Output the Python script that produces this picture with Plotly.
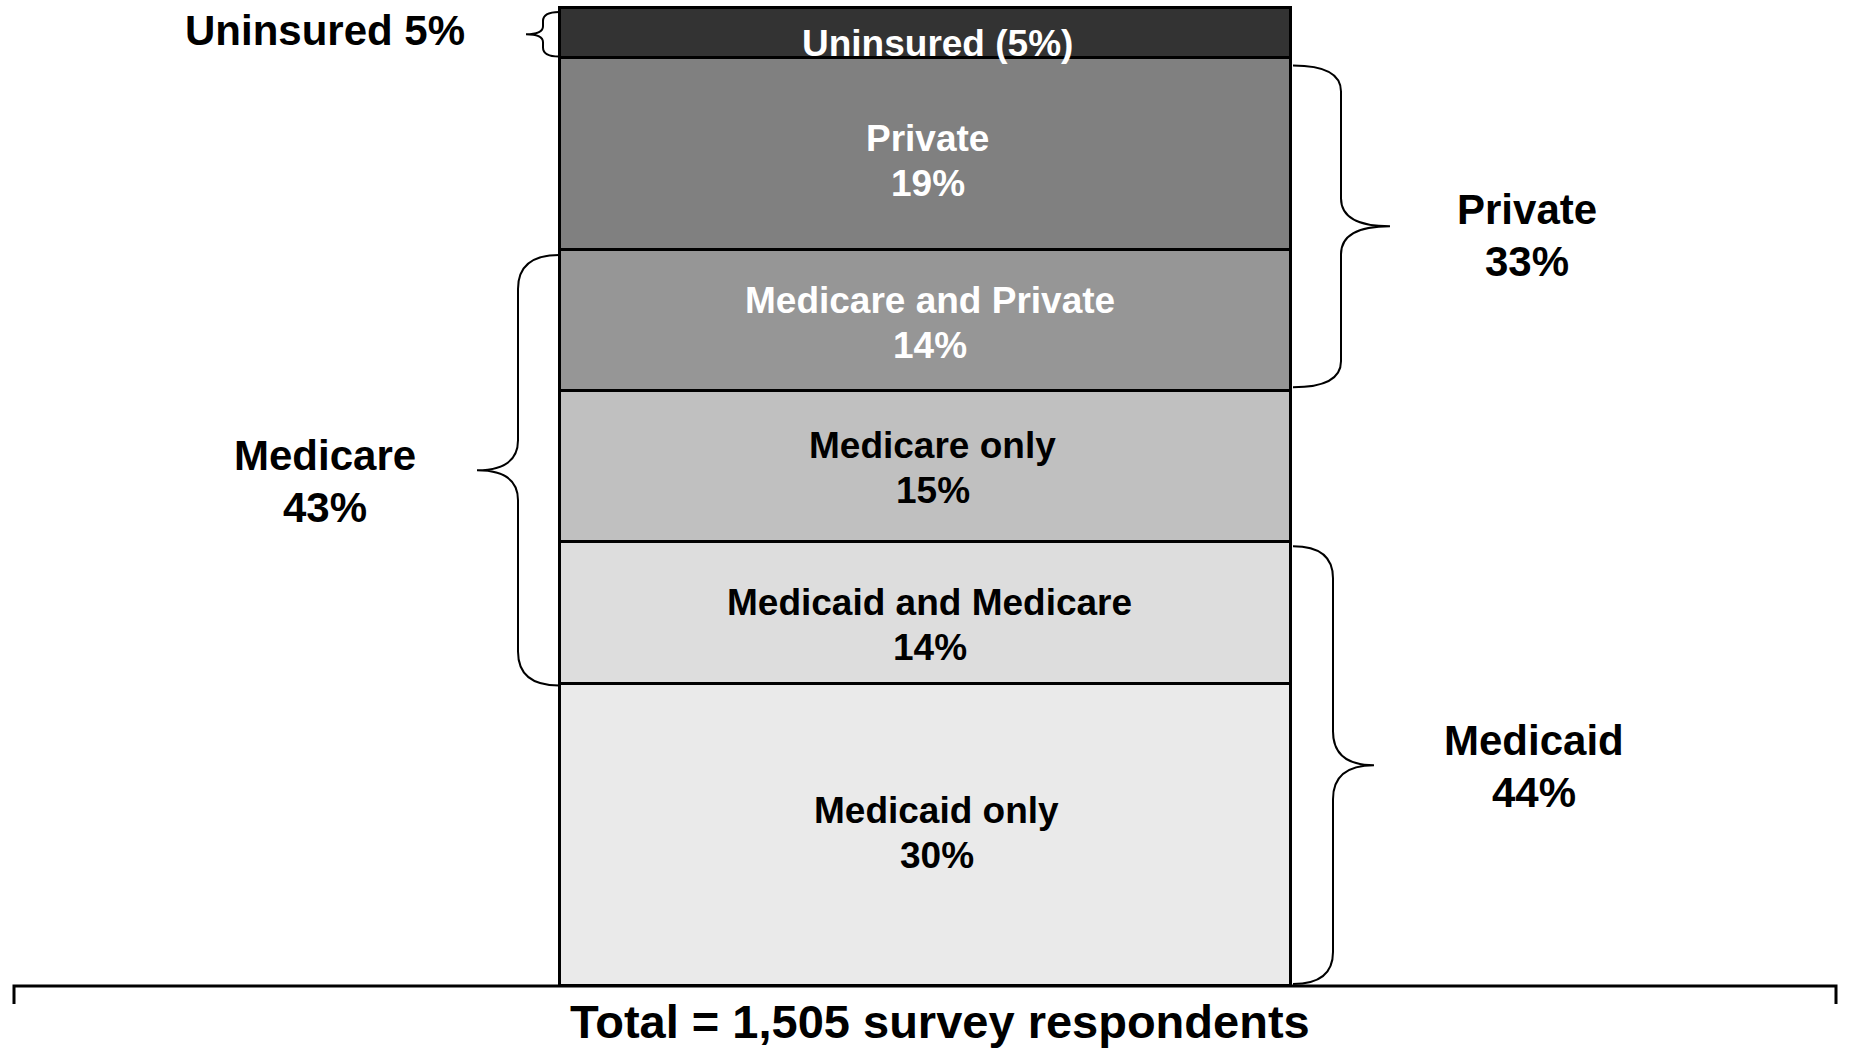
import plotly.graph_objects as go

# ---------------- data ----------------
segments = ["Medicaid only", "Medicaid and Medicare", "Medicare only",
            "Medicare and Private", "Private", "Uninsured"]
segment_pct = [30, 14, 15, 14, 19, 5]
segment_lines = [["Medicaid only", "30%"], ["Medicaid and Medicare", "14%"],
                 ["Medicare only", "15%"], ["Medicare and Private", "14%"],
                 ["Private", "19%"], ["Uninsured (5%)"]]
groups = ["Uninsured", "Private", "Medicare", "Medicaid"]
group_pct = [5, 33, 43, 44]
group_members = [[5], [3, 4], [1, 2, 3], [0, 1]]
total_label = "Total = 1,505 survey respondents"

# ---------------- style ----------------
seg_colors = ["#EAEAEA", "#DDDDDD", "#C0C0C0", "#969696", "#808080", "#333333"]
seg_text_colors = ["black", "black", "black", "white", "white", "white"]
FONT = "Liberation Sans, Arial, Helvetica, sans-serif"
W, H = 1849, 1049
BASE_PX, TOP_PX = 986, 8          # pixel rows of y=0 and of the stack top
total = sum(segment_pct)
ppu = (BASE_PX - TOP_PX) / total  # pixels per percentage point
y_min = -(H - BASE_PX) / ppu
y_max = total + TOP_PX / ppu
BAR_LEFT, BAR_RIGHT = 560, 1291
bar_center = (BAR_LEFT + BAR_RIGHT) / 2
bar_width = BAR_RIGHT - BAR_LEFT

fig = go.Figure()
for name, v, c in zip(segments, segment_pct, seg_colors):
    fig.add_trace(go.Bar(x=[bar_center], y=[v], width=[bar_width], name=name,
                         marker=dict(color=c, line=dict(color="black", width=3)),
                         hoverinfo="skip", showlegend=False))

bounds = []
acc = 0
for v in segment_pct:
    bounds.append((acc, acc + v))
    acc += v

annotations = []


def add_lines(lines, x, y, size, color, spacing, yshift=0, xshift=0):
    n = len(lines)
    for k, t in enumerate(lines):
        off = ((n - 1) / 2 - k) * spacing
        annotations.append(dict(x=x, y=y, xref="x", yref="y", text=f"<b>{t}</b>",
                                showarrow=False, xshift=xshift, yshift=off + yshift,
                                font=dict(family=FONT, size=size, color=color),
                                xanchor="center", yanchor="middle"))


seg_yshift = [2, -12, -1, -2, -7, -10]
seg_xshift = [11, 4, 7, 4, 2, 12]
for i, (lines, tc) in enumerate(zip(segment_lines, seg_text_colors)):
    lo, hi = bounds[i]
    add_lines(lines, bar_center, (lo + hi) / 2, 37, tc, 45,
              yshift=seg_yshift[i], xshift=seg_xshift[i])

geom = {  # x_end, x_vert, x_tip, label_x, r, tip_r, inset_top, inset_bot, label_dy
    "Uninsured": (559, 543, 526, 325, 9, 8, 4, 2, 4),
    "Private": (1293, 1341, 1390, 1527, 26, 28, 7, 4, -9),
    "Medicare": (559, 518, 477, 325, 34, 30, 5, -2, -11),
    "Medicaid": (1293, 1333, 1374, 1534, 32, 34, 4, 2, -1),
}
shapes = []
for g, pct, members in zip(groups, group_pct, group_members):
    y0 = bounds[min(members)][0]
    y1 = bounds[max(members)][1]
    xe, xv, xt, lx, r, tr, it, ib, ldy = geom[g]
    ry, ty = r / ppu, tr / ppu
    top, bot = y1 - it / ppu, y0 + ib / ppu
    mid = (top + bot) / 2
    path = (f"M {xe},{top} Q {xv},{top} {xv},{top - ry} L {xv},{mid + ty} "
            f"Q {xv},{mid} {xt},{mid} Q {xv},{mid} {xv},{mid - ty} "
            f"L {xv},{bot + ry} Q {xv},{bot} {xe},{bot}")
    shapes.append(dict(type="path", path=path, xref="x", yref="y",
                       line=dict(color="black", width=2)))
    lines = [f"{g} {pct}%"] if len(members) == 1 else [g, f"{pct}%"]
    add_lines(lines, lx, mid, 42, "black", 52, yshift=ldy)

tick = 18 / ppu
shapes.append(dict(type="path", xref="x", yref="y",
                   path=f"M 14,{-tick} L 14,0 L 1836,0 L 1836,{-tick}",
                   line=dict(color="black", width=3)))
annotations.append(dict(x=940, y=y_min, xref="x", yref="y",
                        text=f"<b>{total_label}</b>", showarrow=False,
                        xanchor="center", yanchor="bottom", borderpad=0,
                        font=dict(family=FONT, size=47, color="black")))

fig.update_layout(
    width=W, height=H, barmode="stack", bargap=0,
    margin=dict(l=0, r=0, t=0, b=0),
    paper_bgcolor="white", plot_bgcolor="white",
    xaxis=dict(range=[0, W], visible=False, fixedrange=True),
    yaxis=dict(range=[y_min, y_max], visible=False, fixedrange=True),
    shapes=shapes, annotations=annotations,
)
fig.write_html("out.html", config={"displayModeBar": False},
               post_script="document.body.style.margin='0';"
                           "document.body.style.overflow='hidden';")
